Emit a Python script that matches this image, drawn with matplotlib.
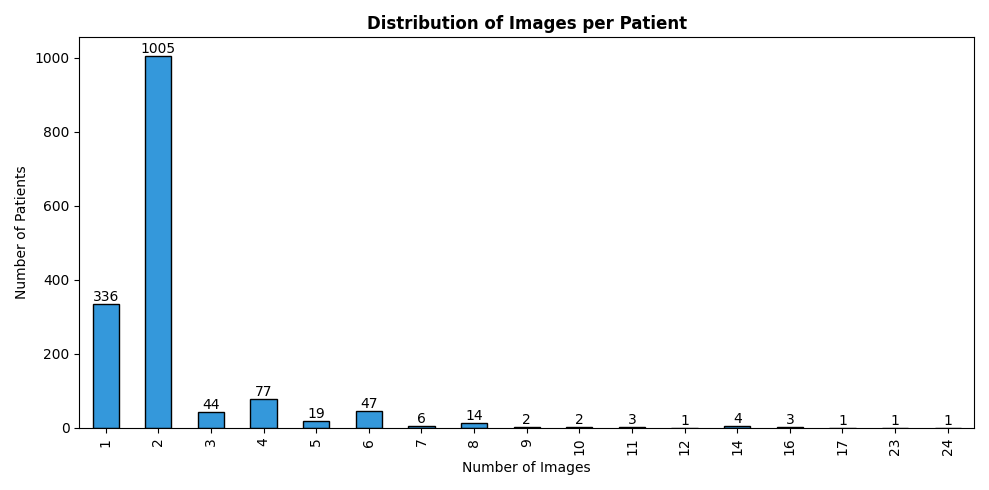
import matplotlib.pyplot as plt
import pandas as pd

num_images = [1, 2, 3, 4, 5, 6, 7, 8, 9, 10, 11, 12, 14, 16, 17, 23, 24]
num_patients = [336, 1005, 44, 77, 19, 47, 6, 14, 2, 2, 3, 1, 4, 3, 1, 1, 1]

counts = pd.Series(num_patients, index=num_images)

fig, ax = plt.subplots(figsize=(9.89, 4.9), dpi=100)
counts.plot(kind='bar', ax=ax, color='#3498db', edgecolor='black')
for container in ax.containers:
    ax.bar_label(container)
ax.set_title('Distribution of Images per Patient', fontweight='bold')
ax.set_xlabel('Number of Images')
ax.set_ylabel('Number of Patients')
plt.tight_layout()
plt.savefig('out.png')
